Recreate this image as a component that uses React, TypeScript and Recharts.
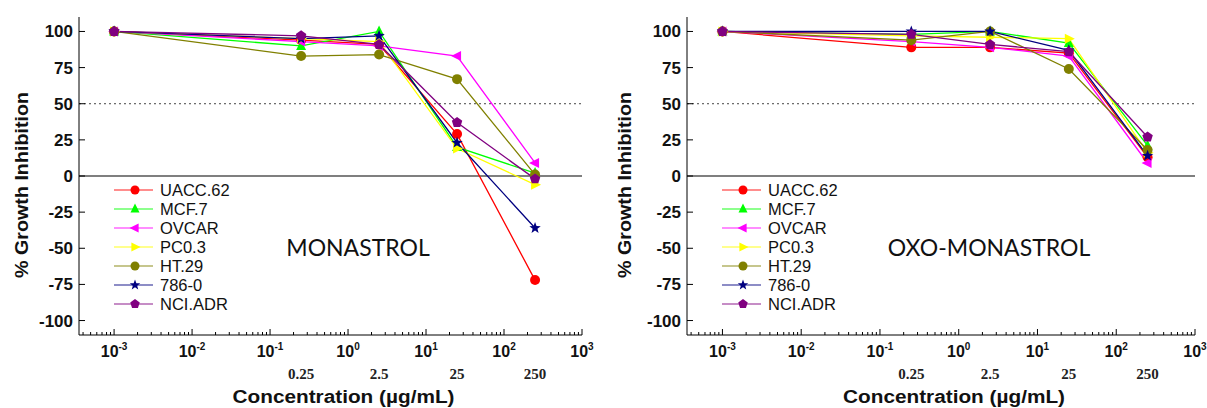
import React from 'react';
import { LineChart, Line, XAxis, YAxis, ReferenceLine } from 'recharts';

// concentrations (µg/mL), first point drawn at 10^-3 as the untreated control
const CONC = [0.001, 0.25, 2.5, 25, 250];
const CONC_LABEL_VALUES = [0.25, 2.5, 25, 250];
const CONC_LABELS = ['0.25', '2.5', '25', '250'];

const CELL_LINES = ['UACC.62', 'MCF.7', 'OVCAR', 'PC0.3', 'HT.29', '786-0', 'NCI.ADR'];
const COLORS = ['#FF0000', '#00FF00', '#FF00FF', '#FFFF00', '#808000', '#000080', '#800080'];
const SHAPES = ['circle', 'triUp', 'triLeft', 'triRight', 'circle', 'star', 'pentagon'];

// % growth inhibition, one row per cell line
const UACC62_MON = [100, 94, 91, 29, -72];
const MCF7_MON = [100, 90, 100, 20, 2];
const OVCAR_MON = [100, 93, 90, 83, 9];
const PC03_MON = [100, 95, 93, 19, -6];
const HT29_MON = [100, 83, 84, 67, 1];
const R7860_MON = [100, 95, 97, 23, -36];
const NCIADR_MON = [100, 97, 91, 37, -2];

const UACC62_OXO = [100, 89, 89, 85, 13];
const MCF7_OXO = [100, 98, 100, 92, 21];
const OVCAR_OXO = [100, 93, 89, 83, 9];
const PC03_OXO = [100, 97, 96, 95, 16];
const HT29_OXO = [100, 94, 100, 74, 18];
const R7860_OXO = [100, 100, 100, 87, 14];
const NCIADR_OXO = [100, 98, 91, 86, 27];

const MONASTROL = [UACC62_MON, MCF7_MON, OVCAR_MON, PC03_MON, HT29_MON, R7860_MON, NCIADR_MON];
const OXO_MONASTROL = [UACC62_OXO, MCF7_OXO, OVCAR_OXO, PC03_OXO, HT29_OXO, R7860_OXO, NCIADR_OXO];

const Y_TICKS = [-100, -75, -50, -25, 0, 25, 50, 75, 100];

const SANS = '"Liberation Sans", Arial, sans-serif';
const SERIF = '"Liberation Serif", "Times New Roman", serif';

const X_MIN = Math.pow(10, -3.45);
const X_MAX = 1000;

// major + minor log ticks, plus the second-row concentration labels
const X_TICKS: number[] = (() => {
  const t: number[] = [];
  for (let d = -4; d <= 3; d++) {
    const base = Math.pow(10, d);
    if (base >= X_MIN && base <= X_MAX) t.push(base);
    if (d < 3) for (let k = 2; k <= 9; k++) if (k * base >= X_MIN) t.push(k * base);
  }
  return [...t, ...CONC_LABEL_VALUES];
})();

const buildRows = (series: number[][]) =>
  CONC.map((x, i) => {
    const row: Record<string, number> = { x };
    series.forEach((s, j) => (row[`s${j}`] = s[i]));
    return row;
  });

function Marker({ shape, cx, cy, color, s = 5 }: { shape: string; cx: number; cy: number; color: string; s?: number }) {
  const pts = (arr: number[][]) => arr.map((p) => `${cx + p[0]},${cy + p[1]}`).join(' ');
  switch (shape) {
    case 'triUp':
      return <polygon points={pts([[0, -s - 1], [-s, s * 0.8], [s, s * 0.8]])} fill={color} />;
    case 'triLeft':
      return <polygon points={pts([[-s - 1, 0], [s * 0.8, -s], [s * 0.8, s]])} fill={color} />;
    case 'triRight':
      return <polygon points={pts([[s + 1, 0], [-s * 0.8, -s], [-s * 0.8, s]])} fill={color} />;
    case 'star': {
      const a: number[][] = [];
      for (let i = 0; i < 10; i++) {
        const r = i % 2 === 0 ? s + 1 : (s + 1) * 0.42;
        const ang = -Math.PI / 2 + (i * Math.PI) / 5;
        a.push([r * Math.cos(ang), r * Math.sin(ang)]);
      }
      return <polygon points={pts(a)} fill={color} />;
    }
    case 'pentagon': {
      const a: number[][] = [];
      for (let i = 0; i < 5; i++) {
        const ang = -Math.PI / 2 + (i * 2 * Math.PI) / 5;
        a.push([(s + 0.5) * Math.cos(ang), (s + 0.5) * Math.sin(ang)]);
      }
      return <polygon points={pts(a)} fill={color} />;
    }
    default:
      return <circle cx={cx} cy={cy} r={s} fill={color} />;
  }
}

const XTick = (props: any) => {
  const { x, y, payload } = props;
  const v = payload.value as number;
  const li = CONC_LABEL_VALUES.indexOf(v);
  if (li >= 0) {
    return (
      <text x={x} y={y + 44} textAnchor="middle" fontFamily={SERIF} fontWeight="bold" fontSize={15} fill="#222">
        {CONC_LABELS[li]}
      </text>
    );
  }
  const lg = Math.log10(v);
  const major = Math.abs(lg - Math.round(lg)) < 1e-6;
  return (
    <g>
      <line x1={x} x2={x} y1={y} y2={y - (major ? 6 : 3)} stroke="#000" strokeWidth={1} />
      {major && (
        <text x={x} y={y + 22} textAnchor="middle" fontFamily={SANS} fontWeight="bold" fontSize={16} fill="#111">
          <tspan>10</tspan>
          <tspan dy={-7} fontSize={10}>{Math.round(lg)}</tspan>
        </text>
      )}
    </g>
  );
};

const YTick = (props: any) => {
  const { x, y, payload } = props;
  return (
    <g>
      <line x1={x} x2={x + 6} y1={y} y2={y} stroke="#000" strokeWidth={1} />
      <text x={x - 6} y={y} dy={6} textAnchor="end" fontFamily={SANS} fontWeight="bold" fontSize={17} fill="#111">
        {payload.value}
      </text>
    </g>
  );
};

function Panel({ series, title, titleX, left, width, plotL, plotR }: {
  series: number[][]; title: string; titleX: number; left: number; width: number; plotL: number; plotR: number;
}) {
  const rows = buildRows(series);
  const top = 17;
  const axisY = 335;
  const H = 408;
  return (
    <div style={{ position: 'absolute', left, top: 0, width, height: H }}>
      <LineChart
        width={width}
        height={H}
        data={rows}
        margin={{ top, right: width - plotR, bottom: 0, left: 0 }}
      >
        <XAxis
          dataKey="x"
          type="number"
          scale="log"
          domain={[X_MIN, X_MAX]}
          allowDataOverflow
          ticks={X_TICKS}
          interval={0}
          tick={<XTick />}
          tickSize={0}
          tickMargin={0}
          tickLine={false}
          axisLine={{ stroke: '#000', strokeWidth: 1 }}
          height={H - axisY}
        />
        <YAxis
          type="number"
          domain={[-110, 110]}
          allowDataOverflow
          ticks={Y_TICKS}
          interval={0}
          tick={<YTick />}
          tickSize={0}
          tickMargin={0}
          tickLine={false}
          axisLine={{ stroke: '#000', strokeWidth: 1 }}
          width={plotL}
        />
        <ReferenceLine y={50} stroke="#444" strokeDasharray="2 3" strokeWidth={1} />
        <ReferenceLine y={0} stroke="#000" strokeWidth={1.2} />
        {CELL_LINES.map((name, j) => (
          <Line
            key={name}
            name={name}
            dataKey={`s${j}`}
            stroke={COLORS[j]}
            strokeWidth={1.3}
            isAnimationActive={false}
            dot={(p: any) => (
              <Marker key={`${name}-${p.index}`} shape={SHAPES[j]} cx={p.cx} cy={p.cy} color={COLORS[j]} />
            )}
            activeDot={false}
          />
        ))}
      </LineChart>

      {/* legend, titles and axis captions */}
      <svg width={width} height={H} style={{ position: 'absolute', left: 0, top: 0, pointerEvents: 'none' }}>
        {CELL_LINES.map((name, j) => {
          const ly = 190 + j * 19;
          const lx = plotL + 35;
          return (
            <g key={name}>
              <line x1={lx} x2={lx + 39} y1={ly} y2={ly} stroke={COLORS[j]} strokeOpacity={0.6} strokeWidth={1.5} />
              <Marker shape={SHAPES[j]} cx={lx + 21} cy={ly} color={COLORS[j]} s={4.5} />
              <text x={lx + 46} y={ly + 6} fontFamily={SANS} fontSize={16.5} fill="#111">{name}</text>
            </g>
          );
        })}
        <text
          x={titleX}
          y={256}
          textAnchor="middle"
          fontFamily='Lato, "Open Sans", sans-serif'
          fontSize={23}
          fill="#111"
        >
          {title}
        </text>
        <text
          x={22}
          y={185}
          transform={`rotate(-90 22 185)`}
          textAnchor="middle"
          dy={6}
          fontFamily={SANS}
          fontWeight="bold"
          fontSize={18}
          textLength={186}
          lengthAdjust="spacingAndGlyphs"
          fill="#111"
        >
          % Growth Inhibition
        </text>
        <text
          x={plotL + (plotR - plotL) / 2 + 13}
          y={403}
          textAnchor="middle"
          fontFamily={SANS}
          fontWeight="bold"
          fontSize={18}
          textLength={222}
          lengthAdjust="spacingAndGlyphs"
          fill="#111"
        >
          Concentration (µg/mL)
        </text>
      </svg>
    </div>
  );
}

export default function App() {
  return (
    <div style={{ position: 'absolute', left: 0, top: 0, width: 1207, height: 408, background: '#fff' }}>
      <Panel series={MONASTROL} title="MONASTROL" titleX={358} left={0} width={603} plotL={79} plotR={582} />
      <Panel series={OXO_MONASTROL} title="OXO-MONASTROL" titleX={386} left={603} width={604} plotL={84} plotR={592} />
    </div>
  );
}
